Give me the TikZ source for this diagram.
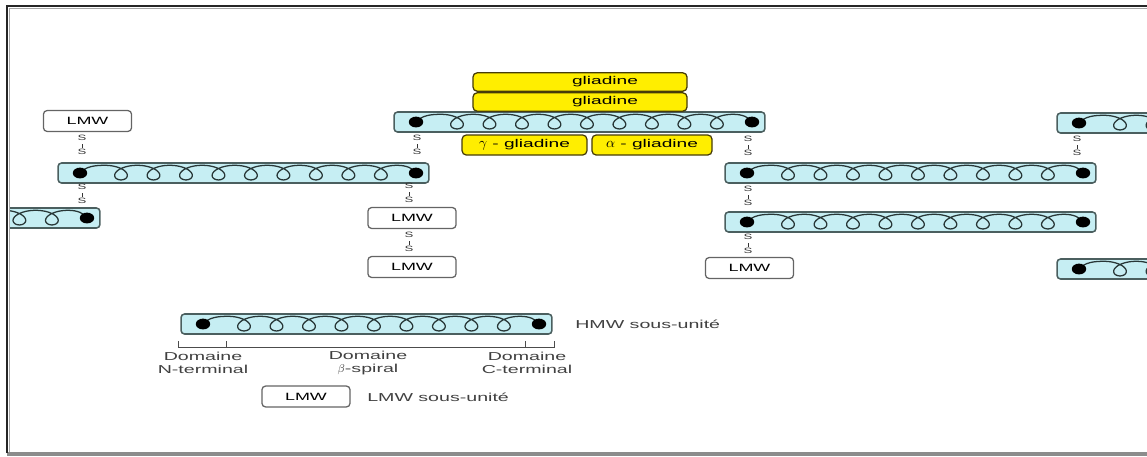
\documentclass[tikz,border=0pt]{standalone}
\usepackage{fontspec}
\setmainfont[FakeStretch=1.7]{Liberation Sans}
\usetikzlibrary{calc}
\definecolor{barcyan}{RGB}{198,238,243}
\definecolor{bardraw}{RGB}{75,95,95}
\definecolor{coilgray}{RGB}{40,55,55}
\definecolor{glifill}{RGB}{255,238,0}
\definecolor{glidraw}{RGB}{70,60,10}
\definecolor{lmwdraw}{RGB}{100,100,100}
\tikzset{
  hmw/.style={draw=bardraw, fill=barcyan, line width=1.1pt, rounded corners=2.5pt,
    minimum width=9.27cm, minimum height=0.5cm, inner sep=0pt},
  lmw/.style={draw=lmwdraw, fill=white, line width=0.9pt, rounded corners=2.5pt,
    minimum width=2.2cm, minimum height=0.52cm, inner sep=0pt, font=\fontsize{7.5}{8}\selectfont},
  gli/.style={draw=glidraw, fill=glifill, line width=0.9pt, rounded corners=3pt,
    minimum height=0.46cm, inner sep=0pt, font=\fontsize{8}{9}\selectfont},
  ssbond/.style={font=\fontsize{5.5}{5.2}\selectfont, align=center, inner sep=0pt, text=black!80},
  coil/.style={draw=coilgray, line width=0.9pt},
  legend/.style={font=\fontsize{8.2}{8.8}\selectfont, text=black!75, inner sep=0pt, align=center},
}
\newcommand{\sbridge}{S\\\rule{0.6pt}{2.6pt}\\S}
\newcommand{\grk}[1]{{\fontsize{10}{10}\selectfont$#1$}}

\begin{document}
\begin{tikzpicture}[x=0.025cm, y=-0.025cm]
\useasboundingbox (0,0) rectangle (1147,456);
% frame
\fill[black!45] (7,452) rectangle (1147,456);
\draw[black!35, line width=1pt] (9.5,452) -- (9.5,8.5) -- (1147,8.5);
\draw[black!85, line width=1.4pt] (7,453) -- (7,6) -- (1147,6);
\begin{scope}
\clip (10,9) rectangle (1147,452);
% HMW chains: top-left corner / name
\foreach \bx/\by/\bn in {394/112/barTop, 58/163/barL, -271/208/barLL, 725/163/barRa,
    725/212/barRb, 1057/113/barRT, 1057/259/barRB, 181/314/barLeg} {
  \node[hmw] (\bn) at (\bx+185.5,\by+10) {};
  \draw[coil] (\bx+22,\by+10) .. controls (\bx+28,\by+3) and (\bx+38,\by+2.3) .. (\bx+47,\by+2.3)
    -- plot[domain=-180:3060, samples=541] ({\bx+63+5.17*(rad(\x)-2.6*sin(\x))},{\by+2.3+7.3*(1+cos(\x))})
    .. controls (\bx+348,\by+2.3) and (\bx+355,\by+5) .. (\bx+358,\by+10);
  \fill (\bx+22,\by+10) ellipse [x radius=0.18cm, y radius=0.135cm];
  \fill (\bx+358,\by+10) ellipse [x radius=0.18cm, y radius=0.135cm];
}
\end{scope}
% gliadines
\node[gli, minimum width=5.35cm] (gliA) at (580,82) {};
\node[gli, draw=none, fill=none] (gliAt) at (605,82) {gliadine};
\node[gli, minimum width=5.35cm] (gliB) at (580,102) {};
\node[gli, draw=none, fill=none] (gliBt) at (605,102) {gliadine};
\node[gli, minimum width=3.12cm, minimum height=0.5cm] (gliG) at (524.5,145) {\grk{\gamma} - gliadine};
\node[gli, minimum width=3cm, minimum height=0.5cm] (gliAl) at (652,145) {\grk{\alpha} - gliadine};
% LMW
\node[lmw] (lmwA) at (87.5,121) {LMW};
\node[lmw] (lmwB) at (412,218) {LMW};
\node[lmw] (lmwC) at (412,267) {LMW};
\node[lmw] (lmwD) at (749.5,268) {LMW};
% S-S bridges
\foreach \sx/\sy/\sn in {82/145/ssA, 82/194/ssB, 417/145/ssC, 409/193/ssD, 409/242/ssE,
    748/146/ssF, 748/196/ssG, 748/244/ssH, 1077/146/ssI} {
  \node[ssbond] (\sn) at (\sx,\sy) {\sbridge};
}
% legend
\draw[black!70, line width=0.7pt] (178,341) -- (178,347) -- (554,347) -- (554,341);
\draw[black!70, line width=0.7pt] (226,347) -- (226,341);
\draw[black!70, line width=0.7pt] (525,347) -- (525,341);
\node[legend] (domN) at (203,363) {Domaine\\N-terminal};
\node[legend] (domB) at (368,363) {Domaine\\$\beta$-spiral};
\node[legend] (domC) at (527,363) {Domaine\\C-terminal};
\node[legend, anchor=west] (hmwTxt) at (575,324) {HMW sous-unité};
\node[lmw] (lmwLeg) at (306,396.5) {LMW};
\node[legend, anchor=west] (lmwTxt) at (367,397) {LMW sous-unité};
\end{tikzpicture}
\end{document}
